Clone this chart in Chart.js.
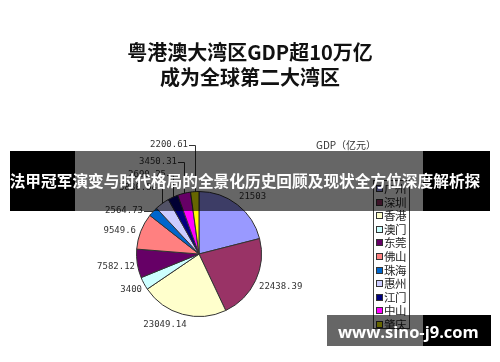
<!DOCTYPE html>
<html>
<head>
<meta charset="utf-8">
<script src="https://cdn.jsdelivr.net/npm/chart.js@4/dist/chart.umd.min.js"></script>
<style>
  html, body { margin: 0; padding: 0; background: #fff; }
  #wrap { position: relative; width: 500px; height: 362px; overflow: hidden; font-family: "Noto Sans CJK SC", sans-serif; }
  #pie { position: absolute; left: 0; top: 0; }
  .title { position: absolute; left: 0; width: 500px; text-align: center; font-weight: bold; font-size: 20px; color: #111; line-height: 24px; }
  #unit { position: absolute; left: 316px; top: 138px; font-size: 10px; color: #333; line-height: 14px; }
  #legend { position: absolute; left: 373px; top: 180px; width: 37px; height: 149px; border: 1px solid #444; box-sizing: border-box; }
  .li { position: absolute; left: 2px; height: 14px; line-height: 14px; font-size: 11.5px; color: #222; white-space: nowrap; letter-spacing: -0.5px; }
  .li i { display: inline-block; width: 5px; height: 5px; border: 1px solid #333; margin-right: 1px; vertical-align: 1px; }
  .band { position: absolute; }
  .bandText { position: absolute; color: #fff; font-weight: bold; white-space: nowrap; }
</style>
</head>
<body>
<div id="wrap">
  <canvas id="pie" width="500" height="362"></canvas>
  <div class="title" style="top:40px">粤港澳大湾区GDP超10万亿</div>
  <div class="title" style="top:65px">成为全球第二大湾区</div>
  <div id="unit">GDP（亿元）</div>
  <div id="legend"></div>

  <!-- banner overlay -->
  <div class="band" style="left:10px;top:151px;width:65px;height:60px;background:#000"></div>
  <div class="band" style="left:75px;top:151px;width:348px;height:60px;background:rgba(0,0,0,0.6)"></div>
  <div class="band" style="left:423px;top:151px;width:67px;height:60px;background:#000"></div>
  <div class="bandText" style="left:0;width:490px;text-align:center;top:170px;font-size:15.7px;line-height:22px;">法甲冠军演变与时代格局的全景化历史回顾及现状全方位深度解析探</div>

  <!-- watermark -->
  <div class="band" style="left:327px;top:315px;width:96px;height:31px;background:rgba(0,0,0,0.6)"></div>
  <div class="band" style="left:423px;top:315px;width:68px;height:31px;background:#000"></div>
  <div class="bandText" style="left:338px;width:140px;text-align:center;top:320px;font-size:16.5px;line-height:24px;font-family:'Open Sans',sans-serif;">www.sino-j9.com</div>
</div>

<script>
// data
const cities = ['广州', '深圳', '香港', '澳门', '东莞', '佛山', '珠海', '惠州', '江门', '中山', '肇庆'];
const gdp = [21503, 22438.39, 23049.14, 3400, 7582.12, 9549.6, 2564.73, 3830.58, 2690.25, 3450.31, 2200.61];
const gdpLabels = ['21503', '22438.39', '23049.14', '3400', '7582.12', '9549.6', '2564.73', '3830.58', '2690.25', '3450.31', '2200.61'];

// styles
const colors = ['#9999FF', '#993366', '#FFFFCC', '#CCFFFF', '#660066', '#FF8080', '#0066CC', '#CCCCFF', '#000080', '#FF00FF', '#FFFF00'];
// label anchor relative to pie centre: [dx, dy, align, leader]
const labelLayout = [
  [40, -57, 'left', false],
  [60, 33, 'left', false],
  [-34, 71, 'center', false],
  [-57, 36, 'right', false],
  [-64, 13, 'right', false],
  [-63, -23, 'right', false],
  [-56, -43, 'right', true],
  [-42, -66, 'right', true],
  [-33, -79, 'right', true],
  [-22, -92, 'right', true],
  [-11, -109, 'right', true]
];

// legend box built from the same arrays
const legend = document.getElementById('legend');
cities.forEach((c, i) => {
  const el = document.createElement('div');
  el.className = 'li';
  el.style.top = (i * 13.6) + 'px';
  el.innerHTML = `<i style="background:${colors[i]}"></i>${c}`;
  legend.appendChild(el);
});

// value labels with Excel-style leader lines
const valueLabels = {
  id: 'valueLabels',
  afterDatasetsDraw(chart) {
    const ctx = chart.ctx;
    const arcs = chart.getDatasetMeta(0).data;
    ctx.save();
    ctx.font = '9px "DejaVu Sans Mono", monospace';
    ctx.fillStyle = '#333';
    ctx.strokeStyle = '#333';
    ctx.lineWidth = 1;
    ctx.textBaseline = 'middle';
    arcs.forEach((arc, i) => {
      const [dx, dy, align, leader] = labelLayout[i];
      const ax = arc.x + dx, ay = arc.y + dy;
      ctx.textAlign = align;
      ctx.fillText(gdpLabels[i], ax, ay);
      if (leader) {
        const mid = (arc.startAngle + arc.endAngle) / 2;
        const ex = arc.x + Math.cos(mid) * arc.outerRadius;
        const ey = arc.y + Math.sin(mid) * arc.outerRadius;
        ctx.beginPath();
        ctx.moveTo(ax + 1, Math.round(ay) + 0.5);
        ctx.lineTo(Math.round(ex) + 0.5, Math.round(ay) + 0.5);
        ctx.lineTo(Math.round(ex) + 0.5, ey);
        ctx.stroke();
      }
    });
    ctx.restore();
  }
};

new Chart(document.getElementById('pie'), {
  type: 'pie',
  data: {
    labels: cities,
    datasets: [{
      data: gdp,
      backgroundColor: colors,
      borderColor: '#333',
      borderWidth: 1
    }]
  },
  options: {
    responsive: false,
    animation: false,
    layout: { padding: { left: 136, top: 191, right: 238, bottom: 45 } },
    plugins: {
      legend: { display: false },
      tooltip: { enabled: false }
    }
  },
  plugins: [valueLabels]
});
</script>
</body>
</html>
